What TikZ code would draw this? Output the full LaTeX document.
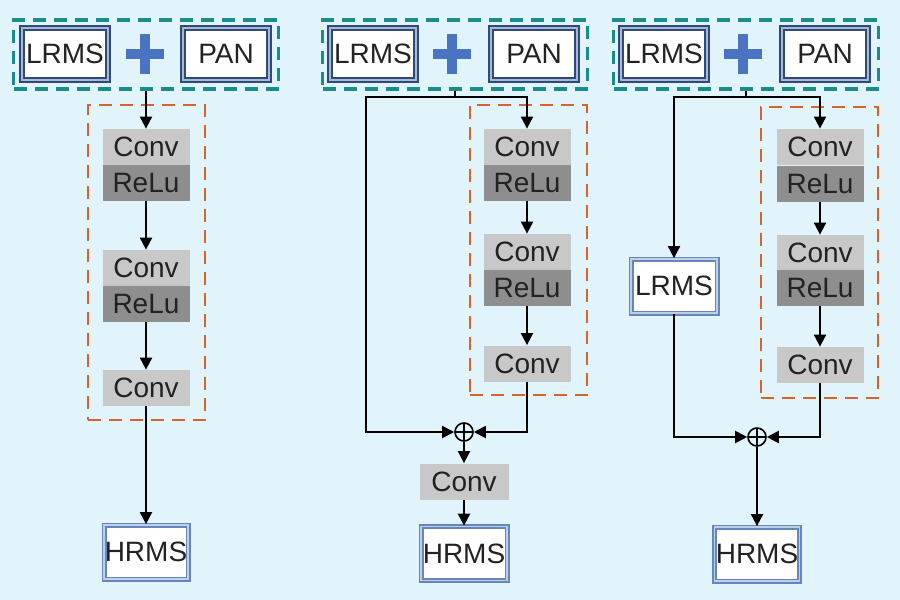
\documentclass[tikz,border=0pt]{standalone}
\usepackage{fontspec}
\setmainfont{Liberation Sans}
\usepackage{tikz}
\usetikzlibrary{arrows.meta}
\usetikzlibrary{positioning}

\definecolor{bgblue}{HTML}{E1F3FB}
\definecolor{navy}{HTML}{2E4A7A}
\definecolor{navylight}{HTML}{A9B9D4}
\definecolor{outblue}{HTML}{6486BC}
\definecolor{outlight}{HTML}{BFCFE6}
\definecolor{convgray}{HTML}{C8C8C8}
\definecolor{relugray}{HTML}{8E8E8E}
\definecolor{tealdash}{HTML}{1C8C8A}
\definecolor{orangedash}{HTML}{D5642C}
\definecolor{plusblue}{HTML}{4A74C2}
\definecolor{txt}{HTML}{222222}

\tikzstyle{inbox} = [rectangle, draw=navy, line width=1.3pt, double=navylight, double distance=0.8pt, fill=white, minimum width=43pt, minimum height=26pt, inner sep=0pt, text=txt]
\tikzstyle{outbox} = [rectangle, draw=outblue, line width=0.9pt, double=outlight, double distance=0.7pt, fill=white, minimum width=42pt, minimum height=27pt, inner sep=0pt, text=txt]
\tikzstyle{conv} = [rectangle, fill=convgray, minimum width=43.5pt, minimum height=18pt, inner sep=0pt, text=txt]
\tikzstyle{relu} = [rectangle, fill=relugray, minimum width=43.5pt, minimum height=18pt, inner sep=0pt, text=txt]
\tikzstyle{inputs} = [rectangle, draw=tealdash, line width=1.6pt, dash pattern=on 6.5pt off 4pt, minimum width=132.5pt, minimum height=34.5pt]
\tikzstyle{branch} = [rectangle, draw=orangedash, line width=1.2pt, dash pattern=on 6.5pt off 4pt, minimum width=58.5pt]
\tikzstyle{sum} = [circle, draw, line width=0.8pt, minimum size=9pt, inner sep=0pt, path picture={\draw[line width=0.8pt] (path picture bounding box.north) -- (path picture bounding box.south) (path picture bounding box.west) -- (path picture bounding box.east);}]
\tikzstyle{plusmark} = [draw=plusblue, line width=5pt]
\tikzstyle{arr} = [draw, line width=1pt, -{Triangle[length=6pt,width=6pt]}]
\tikzstyle{line} = [draw, line width=1pt]

\begin{document}
\begin{tikzpicture}[x=0.5pt, y=-0.5pt, font=\fontsize{14}{16}\selectfont]
   \fill[bgblue] (0,0) rectangle (900,600);
   \useasboundingbox (0,0) rectangle (900,600);

   % Panel 1
   \node [inputs] (in1) at (146,54.5) {};
   \node [inbox] (lrms1) at (65,54) {LRMS};
   \node [inbox] (pan1) at (226,54) {PAN};
   \draw [plusmark] (126,54) -- (164,54) (145,34) -- (145,74);
   \node [branch, minimum height=157.5pt] (br1) at (146.5,262.5) {};
   \node [conv] (c1a) at (146,147) {Conv};
   \node [relu] (r1a) at (146,183) {ReLu};
   \node [conv] (c1b) at (146,268) {Conv};
   \node [relu] (r1b) at (146,304) {ReLu};
   \node [conv] (c1c) at (146,388) {Conv};
   \node [outbox] (hrms1) at (146,552) {HRMS};
   \draw [arr] (in1.south) -- (c1a.north);
   \draw [arr] (r1a.south) -- (c1b.north);
   \draw [arr] (r1b.south) -- (c1c.north);
   \draw [arr] (c1c.south) -- (hrms1.north);

   % Panel 2
   \node [inputs] (in2) at (455,54.5) {};
   \node [inbox] (lrms2) at (373,54) {LRMS};
   \node [inbox] (pan2) at (534,54) {PAN};
   \draw [plusmark] (433,54) -- (471,54) (452,34) -- (452,74);
   \node [branch, minimum height=145pt] (br2) at (528.5,250) {};
   \node [conv] (c2a) at (527,147) {Conv};
   \node [relu] (r2a) at (527,183) {ReLu};
   \node [conv] (c2b) at (527,252) {Conv};
   \node [relu] (r2b) at (527,288) {ReLu};
   \node [conv] (c2c) at (527,363.5) {Conv};
   \node [sum] (sum2) at (464,432) {};
   \node [conv, minimum width=44.5pt] (c2d) at (464,481.5) {Conv};
   \node [outbox, minimum width=43pt] (hrms2) at (464,553.5) {HRMS};
   \coordinate (j2) at (455,97);
   \coordinate (b2) at (366,97);
   \draw [line] (in2.south) -- (j2);
   \draw [arr] (j2) -| (c2a.north);
   \draw [arr] (r2a.south) -- (c2b.north);
   \draw [arr] (r2b.south) -- (c2c.north);
   \draw [arr] (j2) -- (b2) |- (sum2.west);
   \draw [arr] (c2c.south) |- (sum2.east);
   \draw [arr] (sum2.south) -- (c2d.north);
   \draw [arr] (c2d.south) -- (hrms2.north);

   % Panel 3
   \node [inputs] (in3) at (746,54.5) {};
   \node [inbox] (lrms3) at (664,54) {LRMS};
   \node [inbox] (pan3) at (825,54) {PAN};
   \draw [plusmark] (724,54) -- (762,54) (743,34) -- (743,74);
   \node [branch, minimum height=145.5pt] (br3) at (819.5,252.5) {};
   \node [conv] (c3a) at (820,147) {Conv};
   \node [relu] (r3a) at (820,184) {ReLu};
   \node [conv] (c3b) at (820,253) {Conv};
   \node [relu] (r3b) at (820,288) {ReLu};
   \node [conv] (c3c) at (820,365) {Conv};
   \node [outbox, minimum width=43pt] (skip3) at (674,286) {LRMS};
   \node [sum] (sum3) at (757,437) {};
   \node [outbox, minimum width=42.5pt] (hrms3) at (757,554) {HRMS};
   \coordinate (j3) at (746,97);
   \draw [line] (in3.south) -- (j3);
   \draw [arr] (j3) -| (c3a.north);
   \draw [arr] (r3a.south) -- (c3b.north);
   \draw [arr] (r3b.south) -- (c3c.north);
   \draw [arr] (j3) -| (skip3.north);
   \draw [arr] (skip3.south) |- (sum3.west);
   \draw [arr] (c3c.south) |- (sum3.east);
   \draw [arr] (sum3.south) -- (hrms3.north);
\end{tikzpicture}
\end{document}
